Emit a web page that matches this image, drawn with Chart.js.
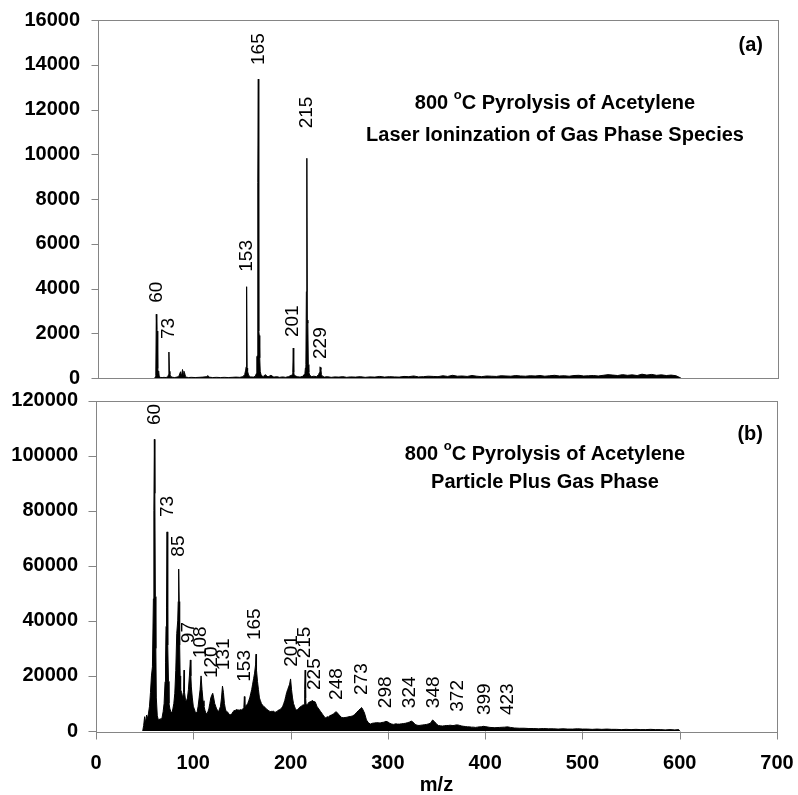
<!DOCTYPE html>
<html>
<head>
<meta charset="utf-8">
<script src="https://cdn.jsdelivr.net/npm/chart.js@4.4.1/dist/chart.umd.min.js"></script>
<style>
  body { margin: 0; background: #fff; }
  #wrap { position: relative; width: 798px; height: 795px; }
  .panel { position: absolute; left: 0; width: 798px; }
</style>
</head>
<body>
<div id="wrap">
  <div class="panel" style="top:0;height:390px"><canvas id="chartA"></canvas></div>
  <div class="panel" style="top:390px;height:405px"><canvas id="chartB"></canvas></div>
</div>
<script>
const FONT = "'Liberation Sans', Arial, Helvetica, sans-serif";
const GRAY = '#858585';

// shared axis ticks
const ticksX = [0, 100, 200, 300, 400, 500, 600, 700];
const ticksA = [0, 2000, 4000, 6000, 8000, 10000, 12000, 14000, 16000];
const ticksB = [0, 20000, 40000, 60000, 80000, 100000, 120000];

// (a) laser ionization of gas phase species
const mzA = [
  58, 59, 59.5, 60, 60.5, 61, 61.5, 62, 62.5, 63,
  64, 66, 68, 70, 72, 72.5, 73, 73.5, 74, 75,
  77, 79, 81, 83, 85, 85.5, 86, 87, 88, 88.5,
  89, 90, 91, 93, 96, 100, 104, 108, 112, 113,
  114, 118, 122, 126, 130, 134, 138, 142, 146, 149,
  151, 152, 152.5, 153, 153.5, 154, 155, 157, 160, 162,
  163, 163.5, 164, 164.5, 165, 165.5, 166, 166.5, 167, 168,
  170, 172, 175, 178, 181, 184, 187, 190, 193, 196,
  199, 200, 200.5, 201, 201.5, 202, 205, 208, 211, 213,
  213.5, 214, 214.5, 215, 215.5, 216, 216.5, 217, 218, 220,
  222, 225, 227, 228, 228.5, 229, 229.5, 230, 231, 233,
  236, 240, 244, 248, 252, 256, 260, 265, 270, 275,
  280, 285, 290, 295, 300, 305, 310, 315, 320, 325,
  330, 335, 340, 345, 350, 355, 360, 365, 370, 375,
  380, 385, 390, 395, 400, 405, 410, 415, 420, 425,
  430, 435, 440, 445, 450, 455, 460, 465, 470, 475,
  480, 485, 490, 495, 500, 505, 510, 515, 520, 525,
  530, 535, 540, 545, 550, 555, 560, 565, 570, 575,
  580, 585, 590, 595, 600
];
const countsA = [
  0, 40, 120, 2850, 2150, 2100, 420, 260, 300, 80,
  30, 20, 30, 20, 60, 150, 1160, 300, 150, 60,
  30, 20, 40, 60, 280, 150, 80, 380, 150, 300,
  250, 80, 40, 20, 30, 20, 30, 40, 60, 110,
  40, 20, 30, 20, 30, 20, 30, 40, 30, 60,
  150, 350, 500, 4080, 450, 300, 120, 50, 40, 80,
  200, 950, 1000, 8730, 13360, 2100, 1900, 900, 300, 120,
  60, 150, 50, 120, 40, 60, 30, 50, 30, 60,
  120, 150, 250, 1340, 250, 120, 60, 40, 80, 200,
  450, 600, 3860, 9820, 2590, 2450, 600, 250, 120, 60,
  80, 60, 150, 250, 500, 470, 380, 150, 80, 40,
  60, 30, 50, 40, 60, 30, 50, 40, 60, 30,
  50, 40, 70, 40, 60, 50, 40, 70, 60, 90,
  50, 60, 80, 70, 60, 100, 70, 120, 80, 90,
  70, 110, 80, 60, 90, 80, 70, 100, 90, 80,
  110, 90, 80, 100, 90, 110, 80, 100, 120, 90,
  100, 80, 110, 120, 90, 100, 110, 90, 120, 150,
  130, 110, 150, 120, 140, 110, 170, 130, 160, 120,
  140, 110, 130, 100, 0
];
const peakTextA = ['60', '73', '153', '165', '201', '215', '229'];
const peakMzA = [60, 73, 153, 165, 201, 215, 229];
const peakTextAtA = [3365, 1743, 4750, 13990, 1832, 11160, 850];

// (b) particle plus gas phase
const mzB = [
  48, 49, 50, 51, 52, 53, 54, 55, 56, 57,
  58, 59, 59.5, 60, 60.5, 61, 61.5, 62, 63, 64,
  65, 66, 67, 68, 69, 70, 71, 71.5, 72, 72.5,
  73, 73.5, 74, 74.5, 75, 76, 77, 78, 79, 80,
  81, 82, 83, 84, 84.5, 85, 85.5, 86, 86.5, 87,
  88, 89, 90, 90.5, 91, 92, 93, 94, 95, 96,
  97, 97.5, 98, 99, 100, 101, 102, 103, 104, 105,
  106, 107, 108, 109, 110, 111, 112, 113, 114, 115,
  116, 117, 118, 119, 120, 121, 122, 123, 124, 125,
  126, 127, 128, 129, 130, 131, 132, 133, 134, 135,
  136, 137, 138, 139, 140, 141, 142, 143, 144, 145,
  146, 147, 148, 149, 150, 151, 152, 152.5, 153, 154,
  155, 156, 157, 158, 159, 160, 161, 162, 163, 164,
  164.5, 165, 166, 167, 168, 169, 170, 171, 172, 173,
  174, 175, 176, 177, 178, 179, 180, 181, 182, 183,
  184, 185, 186, 187, 188, 189, 190, 191, 192, 193,
  194, 195, 196, 197, 198, 199, 200, 201, 202, 203,
  204, 205, 206, 207, 208, 209, 210, 211, 212, 213,
  214, 214.5, 215, 215.5, 216, 217, 218, 219, 220, 221,
  222, 223, 224, 225, 226, 227, 228, 229, 230, 231,
  232, 233, 234, 235, 236, 237, 238, 239, 240, 242,
  244, 246, 247, 248, 250, 252, 254, 256, 258, 260,
  262, 264, 266, 268, 270, 272, 273, 274, 276, 278,
  280, 282, 284, 286, 288, 290, 292, 294, 296, 298,
  300, 302, 304, 306, 308, 310, 312, 314, 316, 318,
  320, 322, 324, 326, 328, 330, 332, 334, 336, 338,
  340, 342, 344, 346, 348, 350, 352, 354, 356, 358,
  360, 362, 364, 366, 368, 370, 372, 374, 376, 378,
  380, 382, 384, 386, 388, 390, 392, 394, 396, 398,
  400, 405, 410, 415, 420, 423, 426, 430, 435, 440,
  445, 450, 455, 460, 465, 470, 475, 480, 485, 490,
  495, 500, 505, 510, 515, 520, 525, 530, 535, 540,
  545, 550, 555, 560, 565, 570, 575, 580, 585, 590,
  595, 599, 600
];
const countsB = [
  0, 2000, 5200, 3000, 5800, 4500, 6500, 9000, 14000, 20000,
  23300, 48000, 80000, 105900, 86300, 48800, 30000, 12000, 5500, 4200,
  4000, 4500, 4000, 5000, 7000, 10000, 17900, 25000, 38000, 45000,
  72300, 52400, 31200, 18000, 10000, 8000, 7000, 6500, 8000, 10000,
  13700, 22000, 35400, 40000, 47000, 58800, 47000, 31200, 20000, 15000,
  14000, 12000, 14000, 22100, 14000, 11300, 11000, 12000, 15000, 20000,
  25800, 20000, 16000, 12000, 9000, 8000, 7000, 6500, 7000, 9000,
  12000, 15000, 20000, 15000, 11000, 9000, 7500, 6500, 6200, 7000,
  8000, 10000, 12000, 13000, 13700, 12000, 10000, 9000, 8000, 7500,
  7000, 8000, 9000, 12000, 16300, 14000, 10000, 8000, 7000, 7000,
  6500, 6000, 6000, 5800, 6500, 7000, 7500, 7300, 7800, 7600,
  7700, 7500, 7800, 7600, 7700, 8000, 8500, 12500, 9000, 9000,
  9500, 10000, 11000, 12000, 13500, 15000, 17000, 19000, 21000, 24000,
  27900, 22000, 18000, 15000, 12000, 11000, 10000, 9500, 9000, 8800,
  8500, 8000, 7800, 7500, 7300, 7000, 7200, 7000, 7300, 7000,
  6800, 7000, 7000, 7500, 7600, 7800, 8000, 8500, 9000, 10000,
  11000, 12500, 14000, 15000, 16000, 17000, 18900, 15000, 12000, 10000,
  9000, 8000, 7600, 7800, 8000, 8500, 8800, 9000, 9300, 9500,
  9400, 15000, 22100, 12000, 9400, 9600, 10000, 10500, 10500, 10800,
  11000, 11000, 10500, 10700, 10000, 9000, 8500, 8000, 7500, 7000,
  6500, 6000, 5500, 5000, 4800, 5000, 5200, 5000, 5500, 5800,
  6200, 6800, 7000, 6600, 5800, 5000, 4800, 4900, 5000, 5200,
  5300, 5500, 6000, 6800, 7500, 8200, 8500, 8000, 6500, 4000,
  3000, 2500, 2800, 2900, 3000, 3000, 2900, 3100, 3200, 3500,
  3300, 2800, 2500, 2400, 2600, 2500, 2500, 2600, 2700, 2800,
  3000, 3200, 3600, 3200, 2400, 2100, 2000, 2100, 2200, 2300,
  2400, 2600, 2900, 4000, 3400, 2500, 2000, 1900, 1800, 1900,
  2000, 2000, 2100, 2000, 2000, 2200, 2200, 2000, 1800, 1700,
  1600, 1500, 1500, 1400, 1400, 1300, 1400, 1500, 1500, 1700,
  1600, 1300, 1200, 1300, 1400, 1500, 1300, 1100, 1000, 1000,
  900, 900, 800, 900, 800, 800, 700, 800, 700, 700,
  800, 700, 700, 600, 700, 600, 700, 600, 600, 500,
  600, 500, 600, 500, 500, 600, 500, 500, 400, 500,
  400, 500, 0
];
const peakTextB = ['60', '73', '85', '97', '108', '120', '131', '153', '165', '201',
  '215', '225', '248', '273', '298', '324', '348', '372', '399', '423'];
const peakMzB = [60.6, 73.7, 84.6, 95, 107.5, 119, 131.5, 153, 163.5, 201,
  214.8, 225, 247.3, 273, 297.7, 322.7, 346.7, 372.3, 399.8, 423.7];
const peakTextAtB = [111100, 77700, 63300, 31900, 26500, 19200, 22100, 17900, 33000, 23300,
  26400, 14900, 11300, 13100, 8300, 8300, 8300, 7000, 5800, 5800];

// title text: [plain, superscript, plain]
const titleTemp = ['800 ', 'o', 'C Pyrolysis of Acetylene'];
const subtitleA = 'Laser Ioninzation of Gas Phase Species';
const subtitleB = 'Particle Plus Gas Phase';

function drawTitleLine(ctx, parts, cx, cy) {
  const big = `bold 20px ${FONT}`, small = `bold 13px ${FONT}`;
  let w = 0;
  parts.forEach((t, i) => { ctx.font = i === 1 ? small : big; w += ctx.measureText(t).width; });
  let x = cx - w / 2;
  parts.forEach((t, i) => {
    ctx.font = i === 1 ? small : big;
    ctx.fillText(t, x, i === 1 ? cy - 8 : cy);
    x += ctx.measureText(t).width;
  });
}

// frame, tick marks, peak labels and panel titles
const spectrumDecor = {
  id: 'spectrumDecor',
  afterDatasetsDraw(chart, args, o) {
    const {ctx, chartArea: a, scales: {x, y}} = chart;
    const L = Math.round(a.left) + 0.5, B = Math.round(a.bottom) + 0.5;
    ctx.save();
    ctx.strokeStyle = GRAY;
    ctx.lineWidth = 1;
    ctx.strokeRect(L, Math.round(a.top) + 0.5, Math.round(a.right - a.left), Math.round(a.bottom - a.top));
    ctx.beginPath();
    y.ticks.forEach(t => {
      const py = Math.round(y.getPixelForValue(t.value)) + 0.5;
      ctx.moveTo(L - o.tick, py); ctx.lineTo(L, py);
    });
    if (o.xTicks) {
      x.ticks.forEach(t => {
        const px = Math.round(x.getPixelForValue(t.value)) + 0.5;
        ctx.moveTo(px, B); ctx.lineTo(px, B + 8);
      });
    }
    ctx.stroke();

    ctx.fillStyle = '#000';
    ctx.textAlign = 'left';
    ctx.textBaseline = 'middle';
    ctx.font = `19px ${FONT}`;
    o.text.forEach((t, i) => {
      ctx.save();
      ctx.translate(x.getPixelForValue(o.mz[i]), y.getPixelForValue(o.at[i]));
      ctx.rotate(-Math.PI / 2);
      ctx.fillText(t, 0, 0);
      ctx.restore();
    });

    drawTitleLine(ctx, titleTemp, o.titleX, o.titleY);
    drawTitleLine(ctx, [o.subtitle], o.titleX, o.titleY + o.lineGap);

    ctx.font = `bold 20px ${FONT}`;
    ctx.textAlign = 'right';
    ctx.fillText(o.tag, 763, o.tagY);
    ctx.restore();
  }
};

function dataset(mz, counts) {
  return {
    data: mz.map((m, i) => ({x: m, y: counts[i]})),
    borderColor: '#000',
    backgroundColor: '#000',
    borderWidth: 1,
    pointRadius: 0,
    tension: 0,
    fill: 'origin'
  };
}

const tickFont = {family: FONT, size: 20, weight: 'bold', lineHeight: 1};

// tick marks are drawn by the plugin; tickLength only sets the label offset
function yAxis(max, ticks, width, labelGap) {
  return {
    min: 0, max: max,
    afterFit: s => { s.width = width; },
    afterBuildTicks: s => { s.ticks = ticks.map(v => ({value: v})); },
    border: {display: false},
    grid: {display: false, drawTicks: true, tickLength: labelGap},
    ticks: {color: '#000', padding: 0, font: tickFont, callback: v => String(v)}
  };
}

new Chart(document.getElementById('chartA'), {
  type: 'line',
  data: {datasets: [dataset(mzA, countsA)]},
  options: {
    responsive: true, maintainAspectRatio: false, animation: false, devicePixelRatio: 1,
    layout: {padding: {top: 20, right: 20, bottom: 12, left: 0}},
    plugins: {
      legend: {display: false}, tooltip: {enabled: false},
      spectrumDecor: {text: peakTextA, mz: peakMzA, at: peakTextAtA, tick: 7, xTicks: false,
        subtitle: subtitleA, titleX: 555, titleY: 103, lineGap: 32, tag: '(a)', tagY: 45}
    },
    scales: {
      x: {type: 'linear', min: 0, max: 700, display: false},
      y: yAxis(16000, ticksA, 98, 18)
    }
  },
  plugins: [spectrumDecor]
});

new Chart(document.getElementById('chartB'), {
  type: 'line',
  data: {datasets: [dataset(mzB, countsB)]},
  options: {
    responsive: true, maintainAspectRatio: false, animation: false, devicePixelRatio: 1,
    layout: {padding: {top: 10.5, right: 21, bottom: 0, left: 0}},
    plugins: {
      legend: {display: false}, tooltip: {enabled: false},
      spectrumDecor: {text: peakTextB, mz: peakMzB, at: peakTextAtB, tick: 8, xTicks: true,
        subtitle: subtitleB, titleX: 545, titleY: 64, lineGap: 28, tag: '(b)', tagY: 44}
    },
    scales: {
      x: {
        type: 'linear', min: 0, max: 700,
        afterFit: s => { s.height = 64; },
        afterBuildTicks: s => { s.ticks = ticksX.map(v => ({value: v})); },
        border: {display: false},
        grid: {display: false, drawTicks: true, tickLength: 22},
        ticks: {color: '#000', padding: 0, maxRotation: 0, font: tickFont, callback: v => String(v)},
        title: {display: true, text: 'm/z', color: '#000', padding: {top: 0, bottom: 0},
          font: {family: FONT, size: 20, weight: 'bold', lineHeight: 1}}
      },
      y: yAxis(120000, ticksB, 96, 18)
    }
  },
  plugins: [spectrumDecor]
});
</script>
</body>
</html>
